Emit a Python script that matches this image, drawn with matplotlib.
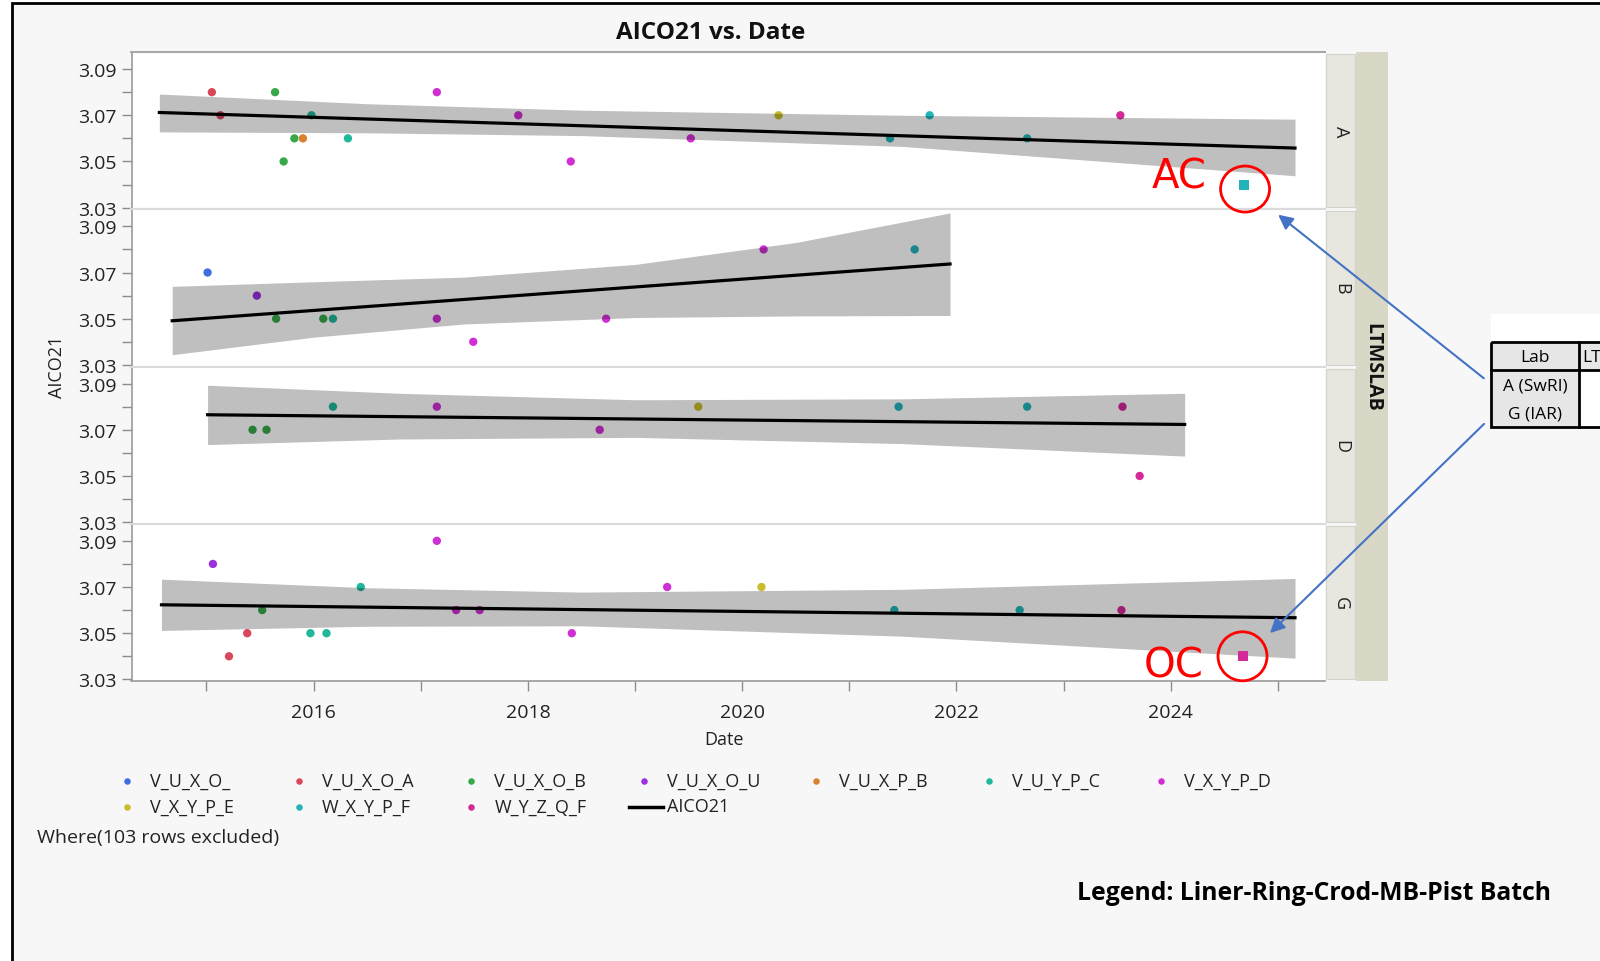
import matplotlib.pyplot as plt
from matplotlib.patches import Rectangle, Ellipse, FancyArrowPatch

plt.rcParams['font.family'] = ['Open Sans', 'DejaVu Sans']

W, H = 1600, 962

batches = ['V_U_X_O_', 'V_U_X_O_A', 'V_U_X_O_B', 'V_U_X_O_U', 'V_U_X_P_B',
           'V_U_Y_P_C', 'V_X_Y_P_D', 'V_X_Y_P_E', 'W_X_Y_P_F', 'W_Y_Z_Q_F']
batch_colors = ['#3f6fdc', '#d9475a', '#38a84a', '#9a30e0', '#d9822b',
                '#1fb89a', '#d12fd4', '#c8bc2a', '#22b4b8', '#d42a98']

labs = ['A', 'B', 'D', 'G']

# test date (decimal year), AICO21 result, batch index
date_A = [2015.05, 2015.13, 2015.64, 2015.72, 2015.82, 2015.90, 2015.98, 2016.32, 2017.15,
          2017.91, 2018.40, 2019.52, 2020.34, 2021.38, 2021.75, 2022.66, 2023.53]
aico_A = [3.08, 3.07, 3.08, 3.05, 3.06, 3.06, 3.07, 3.06, 3.08,
          3.07, 3.05, 3.06, 3.07, 3.06, 3.07, 3.06, 3.07]
batch_A = [1, 1, 2, 2, 2, 4, 5, 5, 6, 6, 6, 6, 7, 8, 8, 8, 9]

date_B = [2015.01, 2015.47, 2015.65, 2016.09, 2016.18, 2017.15, 2017.49, 2018.73, 2020.20, 2021.61]
aico_B = [3.07, 3.06, 3.05, 3.05, 3.05, 3.05, 3.04, 3.05, 3.08, 3.08]
batch_B = [0, 3, 2, 2, 5, 6, 6, 6, 6, 8]

date_D = [2015.43, 2015.56, 2016.18, 2017.15, 2018.67, 2019.59, 2021.46, 2022.66, 2023.55, 2023.71]
aico_D = [3.07, 3.07, 3.08, 3.08, 3.07, 3.08, 3.08, 3.08, 3.08, 3.05]
batch_D = [2, 2, 5, 6, 6, 7, 8, 8, 9, 9]

date_G = [2015.06, 2015.21, 2015.38, 2015.52, 2015.97, 2016.12, 2016.44, 2017.15,
          2017.33, 2017.55, 2018.41, 2019.30, 2020.18, 2021.42, 2022.59, 2023.54]
aico_G = [3.08, 3.04, 3.05, 3.06, 3.05, 3.05, 3.07, 3.09,
          3.06, 3.06, 3.05, 3.07, 3.07, 3.06, 3.06, 3.06]
batch_G = [3, 1, 1, 2, 5, 5, 5, 6, 6, 6, 6, 6, 7, 8, 8, 9]

# latest results, flagged
new_tag = ['AC', 'OC']
new_lab = ['A', 'G']
new_date = [2024.68, 2024.67]
new_aico = [3.04, 3.04]
new_batch = [8, 9]

# linear fit and its confidence band per lab
fit_x = {'A': [2014.56, 2025.16], 'B': [2014.68, 2021.94],
         'D': [2015.01, 2024.13], 'G': [2014.58, 2025.16]}
fit_y = {'A': [3.0712, 3.0558], 'B': [3.0491, 3.0737],
         'D': [3.0765, 3.0723], 'G': [3.0623, 3.0567]}
band_x = {'A': [2014.56, 2016.5, 2018.5, 2021.5, 2025.16],
          'B': [2014.68, 2016.0, 2017.4, 2019.0, 2020.5, 2021.94],
          'D': [2015.01, 2016.8, 2019.0, 2021.5, 2024.13],
          'G': [2014.58, 2016.5, 2018.5, 2021.5, 2025.16]}
band_lo = {'A': [3.0628, 3.0624, 3.0612, 3.0565, 3.0438],
           'B': [3.0344, 3.0420, 3.0477, 3.0505, 3.0512, 3.0514],
           'D': [3.0636, 3.0660, 3.0667, 3.0640, 3.0586],
           'G': [3.0512, 3.0530, 3.0532, 3.0487, 3.0392]}
band_hi = {'A': [3.0792, 3.0750, 3.0722, 3.0700, 3.0683],
           'B': [3.0640, 3.0660, 3.0680, 3.0735, 3.0830, 3.0958],
           'D': [3.0893, 3.0858, 3.0830, 3.0834, 3.0858],
           'G': [3.0734, 3.0697, 3.0678, 3.0690, 3.0737]}

dates = {'A': date_A, 'B': date_B, 'D': date_D, 'G': date_G}
aicos = {'A': aico_A, 'B': aico_B, 'D': aico_D, 'G': aico_G}
batch_idx = {'A': batch_A, 'B': batch_B, 'D': batch_D, 'G': batch_G}

y_major = [3.03, 3.05, 3.07, 3.09]
y_minor = [3.04, 3.06, 3.08]
x_major = [2016, 2018, 2020, 2022, 2024]
x_minor = [2015, 2017, 2019, 2021, 2023, 2025]


def rect(l, t, r, b):
    return [l / W, 1 - b / H, (r - l) / W, (b - t) / H]


fig = plt.figure(figsize=(W / 100, H / 100), dpi=100, facecolor='white')

# background, frame and facet strips drawn in pixel units
bg = fig.add_axes([0, 0, 1, 1], zorder=0)
bg.set_xlim(0, W)
bg.set_ylim(H, 0)
bg.axis('off')
bg.add_patch(Rectangle((12, 4), W + 20, H + 20, facecolor='#f7f7f7', edgecolor='black', lw=2))

plot_l, plot_r, plot_t = 131.5, 1325, 53
panel_h = 157.25

bg.add_patch(Rectangle((1356, plot_t), 32, 4 * panel_h, facecolor='#d9d7c6', edgecolor='none'))
bg.text(1372, plot_t + 2 * panel_h, 'LTMSLAB', rotation=-90, ha='center', va='center',
        fontsize=14, fontweight='bold', color='#111111')

bg.text(711, 33, 'AICO21 vs. Date', ha='center', va='center', fontsize=17.5,
        fontweight='bold', color='#111111')
bg.text(57, 367, 'AICO21', rotation=90, ha='center', va='center', fontsize=13, color='#222222')
bg.text(724, 740, 'Date', ha='center', va='center', fontsize=13, color='#222222')

axes = {}
for i, lab in enumerate(labs):
    top = plot_t + i * panel_h
    bot = top + panel_h
    bg.add_patch(Rectangle((1326, top + 2), 29, panel_h - 4, facecolor='#e7e6df',
                           edgecolor='#d4d3ca', lw=0.8))
    bg.text(1341, top + panel_h / 2, lab, rotation=-90, ha='center', va='center',
            fontsize=13, color='#222222')

    ax = fig.add_axes(rect(plot_l, top, plot_r, bot), zorder=1)
    axes[lab] = ax
    ax.set_facecolor('white')
    ax.scatter(dates[lab], aicos[lab], c=[batch_colors[b] for b in batch_idx[lab]],
               s=36, linewidths=0, zorder=2)
    ax.fill_between(band_x[lab], band_lo[lab], band_hi[lab], color='black', alpha=0.25,
                    lw=0, zorder=3)
    ax.plot(fit_x[lab], fit_y[lab], color='black', lw=2.3, zorder=4)

    for tag, nl, nd, na, nb in zip(new_tag, new_lab, new_date, new_aico, new_batch):
        if nl == lab:
            ax.scatter([nd], [na], marker='s', s=55, c=batch_colors[nb], linewidths=0, zorder=5)

    ax.set_xlim(2014.30, 2025.44)
    ax.set_ylim(3.0293, 3.0974)
    ax.set_yticks(y_major)
    ax.set_yticklabels(['%.2f' % v for v in y_major])
    ax.set_yticks(y_minor, minor=True)
    ax.tick_params(axis='y', which='both', direction='out', length=7.5, width=1,
                   color='#8c8c8c', labelsize=14, labelcolor='#222222', pad=3)

    for side in ['top', 'bottom', 'left', 'right']:
        ax.spines[side].set_color('#dadada')
        ax.spines[side].set_linewidth(1.5)
    ax.spines['right'].set_visible(False)
    ax.spines['left'].set_color('#9a9a9a')
    ax.spines['left'].set_linewidth(1.2)
    if lab == 'A':
        ax.spines['top'].set_color('#a8a8a8')

    if lab == labs[-1]:
        ax.set_xticks(x_major)
        ax.set_xticklabels([str(v) for v in x_major])
        ax.set_xticks(x_minor, minor=True)
        ax.tick_params(axis='x', which='both', direction='out', length=7, width=1,
                       color='#8c8c8c', labelsize=14, labelcolor='#222222', pad=9)
        ax.spines['bottom'].set_color('#9a9a9a')
        ax.spines['bottom'].set_linewidth(1.2)
    else:
        ax.set_xticks([])

# overlay for callouts, legend and the lab table
ov = fig.add_axes([0, 0, 1, 1], zorder=5)
ov.set_xlim(0, W)
ov.set_ylim(H, 0)
ov.axis('off')
ov.patch.set_alpha(0)


def to_px(ax, x, y):
    X, Y = ax.transData.transform((x, y))
    return X, H - Y


text_off = {'AC': (-64, -8), 'OC': (-69, 9)}
circle_off = {'AC': (1.5, 4.5), 'OC': (0, 0)}
circle_size = {'AC': (49, 46), 'OC': (49, 49)}
for tag, nl, nd, na in zip(new_tag, new_lab, new_date, new_aico):
    px, py = to_px(axes[nl], nd, na)
    cx, cy = px + circle_off[tag][0], py + circle_off[tag][1]
    ov.add_patch(Ellipse((cx, cy), circle_size[tag][0], circle_size[tag][1], fill=False,
                         edgecolor='#ff0000', lw=2))
    ov.text(px + text_off[tag][0], py + text_off[tag][1], tag, ha='center', va='center',
            fontsize=29, color='#ff0000', family=['Liberation Sans Narrow', 'DejaVu Sans'])

# table of lab names
ov.add_patch(Rectangle((1491, 315), 115, 113, facecolor='white', edgecolor='none'))
ov.add_patch(Rectangle((1491, 343), 120, 28, facecolor='#e6e6e6', edgecolor='none'))
ov.add_patch(Rectangle((1491, 371), 88, 57, facecolor='#e6e6e6', edgecolor='none'))
ov.add_patch(Rectangle((1491, 343), 130, 85, facecolor='none', edgecolor='black', lw=2))
ov.plot([1491, 1610], [371, 371], color='black', lw=2)
ov.plot([1579, 1579], [343, 428], color='black', lw=2)
ov.text(1535, 358, 'Lab', ha='center', va='center', fontsize=12.5, color='black')
ov.text(1582, 358, 'LT', ha='left', va='center', fontsize=12.5, color='black')
ov.text(1535, 387, 'A (SwRI)', ha='center', va='center', fontsize=12.5, color='black')
ov.text(1535, 415, 'G (IAR)', ha='center', va='center', fontsize=12.5, color='black')

for start, end in [((1486, 381), (1276, 214)), ((1486, 423), (1268, 636))]:
    ov.add_patch(FancyArrowPatch(start, end, arrowstyle='-|>', mutation_scale=22,
                                 color='#4472c4', lw=1.5))

# batch legend
for i, name in enumerate(batches):
    col, row = i % 7, i // 7
    mx = 126.5 + col * 172.4
    my = 782 + row * 25.5
    ov.scatter([mx], [my], s=22, c=batch_colors[i], linewidths=0)
    ov.text(mx + 23, my, name, ha='left', va='center', fontsize=13, color='#222222')
ov.plot([629, 663], [807.5, 807.5], color='black', lw=2.5)
ov.text(667, 807.5, 'AICO21', ha='left', va='center', fontsize=13, color='#222222')

ov.text(37, 838, 'Where(103 rows excluded)', ha='left', va='center', fontsize=14, color='#222222')
ov.text(1314, 894, 'Legend: Liner-Ring-Crod-MB-Pist Batch', ha='center', va='center',
        fontsize=17.8, fontweight='bold', color='black')

fig.savefig('out.png', dpi=100)
